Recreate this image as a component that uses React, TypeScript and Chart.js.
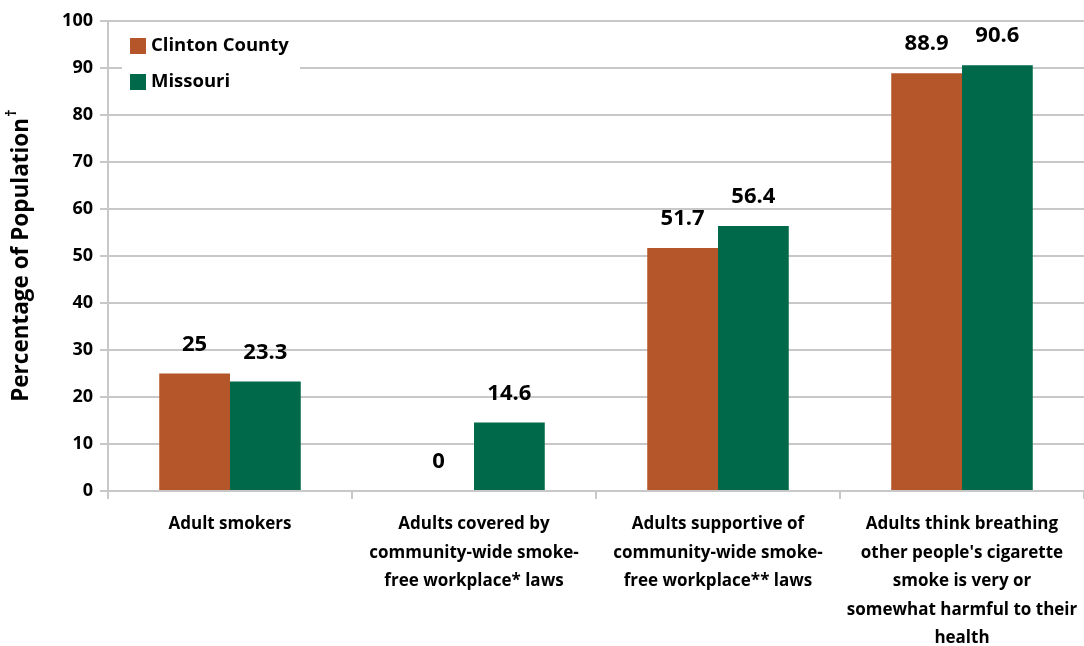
import React, { useEffect, useRef } from "react";
import { Chart, registerables } from "chart.js";

Chart.register(...registerables);

const categories: string[][] = [
  ["Adult smokers"],
  ["Adults covered by", "community-wide smoke-", "free workplace* laws"],
  ["Adults supportive of", "community-wide smoke-", "free workplace** laws"],
  ["Adults think breathing", "other people's cigarette", "smoke is very or", "somewhat harmful to their", "health"],
];
const clintonValues = [25, 0, 51.7, 88.9];
const missouriValues = [23.3, 14.6, 56.4, 90.6];
const yTicks = [0, 10, 20, 30, 40, 50, 60, 70, 80, 90, 100];
const seriesNames = ["Clinton County", "Missouri"];
const yTitle = "Percentage of Population";
const yTitleMark = "†";

const ORANGE = "#B5552A";
const GREEN = "#00694A";
const GRID = "#C8C8C8";
const FONT = "'Open Sans', sans-serif";

const valueLabels = {
  id: "valueLabels",
  afterDatasetsDraw(chart: any) {
    const ctx = chart.ctx;
    ctx.save();
    ctx.font = `bold 22px ${FONT}`;
    ctx.fillStyle = "#000";
    ctx.textAlign = "center";
    ctx.textBaseline = "middle";
    chart.data.datasets.forEach((ds: any, i: number) => {
      const meta = chart.getDatasetMeta(i);
      meta.data.forEach((el: any, j: number) => {
        const v = ds.data[j];
        ctx.fillText(String(v), el.x, el.y - 29);
      });
    });
    ctx.restore();
  },
};

const customLegend = {
  id: "customLegend",
  afterDraw(chart: any) {
    const ctx = chart.ctx;
    ctx.save();
    ctx.fillStyle = "#fff";
    ctx.fillRect(122, 27, 178, 80);
    const colors = [ORANGE, GREEN];
    const ys = [46, 82];
    ctx.font = `bold 18.5px ${FONT}`;
    ctx.textBaseline = "middle";
    ctx.textAlign = "left";
    seriesNames.forEach((name, i) => {
      ctx.fillStyle = colors[i];
      ctx.fillRect(130, ys[i] - 8, 16, 16);
      ctx.fillStyle = "#000";
      ctx.fillText(name, 151, ys[i]);
    });
    ctx.restore();
  },
};

const yTitlePlugin = {
  id: "yTitlePlugin",
  afterDraw(chart: any) {
    const ctx = chart.ctx;
    ctx.save();
    ctx.font = `bold 22.5px ${FONT}`;
    const w = ctx.measureText(yTitle).width;
    ctx.font = `bold 15px ${FONT}`;
    const dw = ctx.measureText(yTitleMark).width;
    const total = w + dw;
    const cx = 22;
    const cy = 256;
    ctx.translate(cx, cy);
    ctx.rotate(-Math.PI / 2);
    ctx.fillStyle = "#000";
    ctx.textBaseline = "middle";
    ctx.textAlign = "left";
    ctx.font = `bold 22.5px ${FONT}`;
    ctx.fillText(yTitle, -total / 2, 0);
    ctx.font = `bold 15px ${FONT}`;
    ctx.fillText(yTitleMark, -total / 2 + w + 1, -10);
    ctx.restore();
  },
};

export default function App() {
  const canvasRef = useRef<HTMLCanvasElement | null>(null);

  useEffect(() => {
    document.body.style.margin = "0";
    const canvas = canvasRef.current;
    if (!canvas) return;
    const chart = new Chart(canvas, {
      type: "bar",
      data: {
        labels: categories,
        datasets: [
          {
            label: seriesNames[0],
            data: clintonValues,
            backgroundColor: ORANGE,
            categoryPercentage: 0.58,
            barPercentage: 1.0,
          },
          {
            label: seriesNames[1],
            data: missouriValues,
            backgroundColor: GREEN,
            categoryPercentage: 0.58,
            barPercentage: 1.0,
          },
        ],
      },
      options: {
        responsive: false,
        animation: false,
        layout: { padding: { top: 21, left: 0, right: 0, bottom: 0 } },
        plugins: {
          legend: { display: false },
          tooltip: { enabled: false },
          title: { display: false },
        },
        scales: {
          x: {
            offset: true,
            grid: {
              display: true,
              drawOnChartArea: false,
              drawTicks: true,
              tickLength: 8,
              color: GRID,
              lineWidth: 2,
              offset: true,
            },
            border: { display: true, color: GRID, width: 2 },
            ticks: {
              color: "#000",
              font: { family: FONT, size: 17, weight: "bold", lineHeight: 1.68 },
              padding: 11,
              maxRotation: 0,
              minRotation: 0,
              autoSkip: false,
            },
            afterFit(scale: any) {
              scale.height = 155;
              scale.paddingLeft = 0;
              scale.paddingRight = 0;
            },
          },
          y: {
            min: 0,
            max: 100,
            afterBuildTicks(scale: any) {
              scale.ticks = yTicks.map((v) => ({ value: v }));
            },
            grid: {
              color: GRID,
              lineWidth: 2,
              drawTicks: true,
              tickLength: 8,
            },
            border: { display: true, color: GRID, width: 2 },
            ticks: {
              color: "#000",
              font: { family: FONT, size: 18, weight: "bold" },
              padding: 7,
            },
            afterFit(scale: any) {
              scale.width = 108;
            },
          },
        },
      },
      plugins: [valueLabels, customLegend, yTitlePlugin],
    });
    return () => chart.destroy();
  }, []);

  return (
    <div style={{ width: 1084, height: 646 }}>
      <canvas ref={canvasRef} width={1084} height={646} />
    </div>
  );
}
